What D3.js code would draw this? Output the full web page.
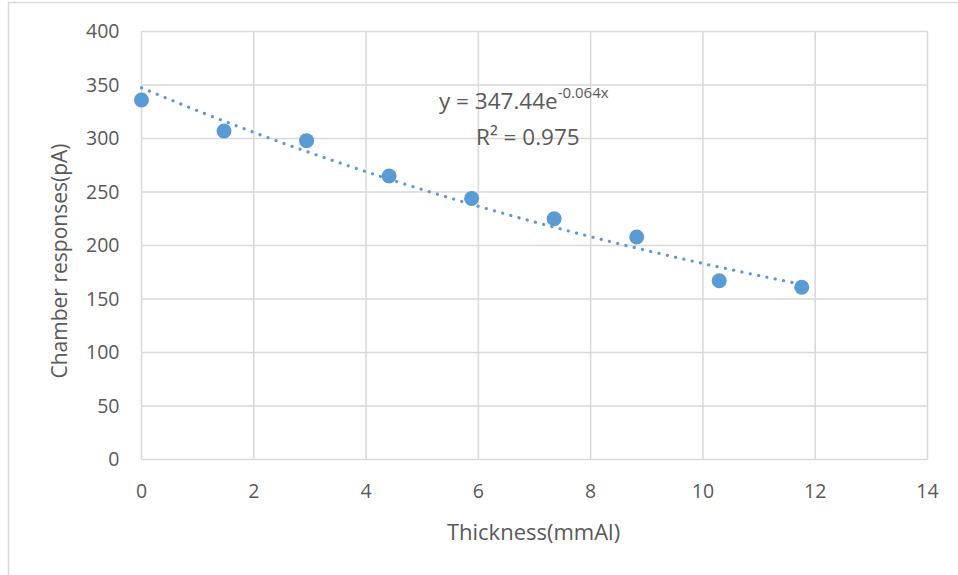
<!DOCTYPE html>
<html>
<head>
<meta charset="utf-8">
<script src="https://cdn.jsdelivr.net/npm/d3@7"></script>
<style>
  body { margin: 0; background: #fff; }
  svg text { font-family: "Open Sans", sans-serif; fill: #595959; }
</style>
</head>
<body>
<div id="chart"></div>
<script>
const width = 958;
const height = 575;

// measured values
const thickness = [0, 1.47, 2.94, 4.41, 5.88, 7.35, 8.82, 10.29, 11.76];
const response  = [336, 307, 298, 265, 244, 225, 208, 167, 161];

const xTicks = [0, 2, 4, 6, 8, 10, 12, 14];
const yTicks = [0, 50, 100, 150, 200, 250, 300, 350, 400];

// exponential trendline as shown on the chart
const fitA = 347.44;
const fitB = -0.064;

const margin = { left: 141.5, right: 30.5, top: 31.5, bottom: 115.5 };

const svg = d3.select("#chart")
  .append("svg")
  .attr("width", width)
  .attr("height", height);

// chart frame
svg.append("rect")
  .attr("x", 8.5)
  .attr("y", 2.5)
  .attr("width", width + 10)
  .attr("height", height + 10)
  .attr("fill", "none")
  .attr("stroke", "#d9d9d9")
  .attr("stroke-width", 1.5);

const x = d3.scaleLinear()
  .domain([0, 14])
  .range([margin.left, width - margin.right]);

const y = d3.scaleLinear()
  .domain([0, 400])
  .range([height - margin.bottom, margin.top]);

// grid
svg.append("g")
  .selectAll("line")
  .data(yTicks)
  .enter()
  .append("line")
  .attr("x1", x(0))
  .attr("x2", x(14))
  .attr("y1", d => y(d))
  .attr("y2", d => y(d))
  .attr("stroke", "#d9d9d9")
  .attr("stroke-width", 1.5);

svg.append("g")
  .selectAll("line")
  .data(xTicks)
  .enter()
  .append("line")
  .attr("x1", d => x(d))
  .attr("x2", d => x(d))
  .attr("y1", y(0))
  .attr("y2", y(400))
  .attr("stroke", "#d9d9d9")
  .attr("stroke-width", 1.5);

// tick labels
svg.append("g")
  .selectAll("text")
  .data(yTicks)
  .enter()
  .append("text")
  .attr("x", x(0) - 22)
  .attr("y", d => y(d))
  .attr("dy", "0.35em")
  .attr("text-anchor", "end")
  .style("font-size", "19.5px")
  .text(d => d);

svg.append("g")
  .selectAll("text")
  .data(xTicks)
  .enter()
  .append("text")
  .attr("x", d => x(d))
  .attr("y", y(0) + 38.5)
  .attr("text-anchor", "middle")
  .style("font-size", "19.5px")
  .text(d => d);

// axis titles
svg.append("text")
  .attr("x", 533.5)
  .attr("y", 539.5)
  .attr("text-anchor", "middle")
  .style("font-size", "22px")
  .text("Thickness(mmAl)");

svg.append("text")
  .attr("transform", "translate(67, 261) rotate(-90)")
  .attr("text-anchor", "middle")
  .style("font-size", "21px")
  .text("Chamber responses(pA)");

// trendline
const xMax = d3.max(thickness);
const fitPts = d3.range(0, 101).map(i => {
  const t = xMax * i / 100;
  return [t, fitA * Math.exp(fitB * t)];
});

svg.append("path")
  .datum(fitPts)
  .attr("d", d3.line().x(d => x(d[0])).y(d => y(d[1])))
  .attr("fill", "none")
  .attr("stroke", "#5b9bd5")
  .attr("stroke-width", 3.2)
  .attr("stroke-linecap", "round")
  .attr("stroke-dasharray", "0.1 8.4");

// points
svg.append("g")
  .selectAll("circle")
  .data(thickness.map((t, i) => ({ t, r: response[i] })))
  .enter()
  .append("circle")
  .attr("cx", d => x(d.t))
  .attr("cy", d => y(d.r))
  .attr("r", 7.5)
  .attr("fill", "#5b9bd5");

// equation label
const eq = svg.append("text")
  .attr("x", 439)
  .attr("y", 109)
  .style("font-size", "22.5px");
eq.append("tspan").text(`y = ${fitA}e`);
eq.append("tspan")
  .attr("dy", -11)
  .style("font-size", "15px")
  .text(`${fitB}x`);

svg.append("text")
  .attr("x", 476)
  .attr("y", 145)
  .style("font-size", "22.5px")
  .text("R² = 0.975");
</script>
</body>
</html>
